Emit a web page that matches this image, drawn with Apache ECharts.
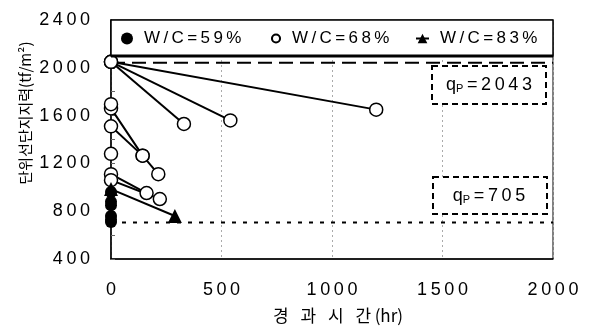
<!DOCTYPE html>
<html>
<head>
<meta charset="utf-8">
<script src="https://cdn.jsdelivr.net/npm/echarts@6/dist/echarts.min.js"></script>
<style>html,body{margin:0;padding:0;background:#fff}#c{width:590px;height:332px}</style>
</head>
<body>
<div id="c"></div>
<script>
// ---- data ----
const xTicks = [0, 500, 1000, 1500, 2000];
const yTicks = [400, 800, 1200, 1600, 2000, 2400];
const seriesNames = ['W/C=59%', 'W/C=68%', 'W/C=83%'];
// W/C=59%: filled circles (initial tests only)
const wc59Points = [[0, 960], [0, 880], [0, 850], [0, 760], [0, 730], [0, 710]];
// W/C=68%: open circles, lines join initial and later tests
const wc68Lines = [
  [[0, 2050], [1200, 1650]],
  [[0, 2050], [540, 1560]],
  [[0, 2050], [330, 1530]],
  [[0, 1660], [143, 1265], [214, 1110]],
  [[0, 1510], [143, 1265]],
  [[0, 1110], [161, 952]],
  [[0, 1060], [221, 902]]
];
const wc68Points = [[0, 1696], [0, 1280]];
// W/C=83%: filled triangles
const wc83Line = [[0, 985], [289, 760]];
// reference capacities q_P
const qpValues = [2043, 705];
const xTitle = '경과시간(hr)';
const yTitle = '단위선단지지력(tf/m²)';

// ---- chart ----
const sp = s => s.split('').join('\u2009');
const chart = echarts.init(document.getElementById('c'), null, {renderer: 'canvas'});
const black = '#000';
const openStyle = {color: '#fff', borderColor: black, borderWidth: 1.5, opacity: 1};
const series = [];
// q_P reference lines
series.push({
  type: 'line', data: [[0, qpValues[0]], [2000, qpValues[0]]], symbol: 'none', silent: true,
  lineStyle: {color: black, width: 2, type: [14, 7]}, z: 1
});
series.push({
  type: 'line', data: [[0, qpValues[1]], [2000, qpValues[1]]], symbol: 'none', silent: true,
  lineStyle: {color: black, width: 2, type: [4, 7]}, z: 1
});
series.push({
  name: seriesNames[0], type: 'scatter', data: wc59Points, symbol: 'circle', symbolSize: 12,
  itemStyle: {color: black, opacity: 1}, z: 3
});
wc68Lines.forEach(seg => series.push({
  name: seriesNames[1], type: 'line', data: seg, symbol: 'circle', symbolSize: 13, showAllSymbol: true,
  lineStyle: {color: black, width: 2}, itemStyle: openStyle, z: 4
}));
series.push({
  name: seriesNames[1], type: 'scatter', data: wc68Points, symbol: 'circle', symbolSize: 13,
  itemStyle: openStyle, z: 4
});
series.push({
  name: seriesNames[2], type: 'line', data: wc83Line, symbol: 'triangle', symbolSize: 14,
  lineStyle: {color: black, width: 2}, itemStyle: {color: black, opacity: 1}, z: 5
});

const legendBase = {
  orient: 'horizontal', padding: 0, top: 30, selectedMode: false, z: 20,
  textStyle: {fontFamily: 'Liberation Sans', fontSize: 17, color: black, padding: [0, 0, 0, 6]},
  formatter: n => sp(n)
};
const labelFont = {fontFamily: 'Liberation Sans', fontSize: 18, color: black};

chart.setOption({
  animation: false,
  backgroundColor: '#fff',
  grid: {left: 111, right: 37, top: 20, bottom: 73, show: true, borderColor: black, borderWidth: 1},
  xAxis: {
    type: 'value', min: xTicks[0], max: xTicks[xTicks.length - 1], interval: 500,
    axisLine: {show: true, lineStyle: {color: black, width: 1.5}},
    axisTick: {show: false},
    axisLabel: Object.assign({margin: 22, formatter: v => sp(String(v))}, labelFont),
    splitLine: {show: true, lineStyle: {color: '#aaa', width: 1, type: [2, 3]}}
  },
  yAxis: {
    type: 'value', min: yTicks[0], max: yTicks[yTicks.length - 1], interval: 400,
    axisLine: {show: true, lineStyle: {color: black, width: 1.5}},
    axisTick: {show: true, inside: true, length: 4, lineStyle: {color: '#666'}},
    minorTick: {show: true, splitNumber: 2, length: 4, lineStyle: {color: '#666'}},
    axisLabel: Object.assign({margin: 21, formatter: v => sp(String(v))}, labelFont),
    splitLine: {show: false}
  },
  legend: [
    Object.assign({}, legendBase, {left: 121, data: [seriesNames[0]], itemWidth: 12, itemHeight: 12}),
    Object.assign({}, legendBase, {left: 270, data: [seriesNames[1]], itemWidth: 10, itemHeight: 10}),
    Object.assign({}, legendBase, {left: 415, data: [seriesNames[2]], itemWidth: 13, itemHeight: 12})
  ],
  graphic: [
    {type: 'rect', z: 10, shape: {x: 111, y: 20, width: 442, height: 36},
     style: {fill: '#fff', stroke: black, lineWidth: 1.5}},
    {type: 'line', z: 11, shape: {x1: 111, y1: 56, x2: 553, y2: 56},
     style: {stroke: black, lineWidth: 3}},
    {type: 'rect', z: 10, shape: {x: 432, y: 66, width: 114, height: 38},
     style: {fill: '#fff', stroke: black, lineWidth: 2, lineDash: [6, 4]}},
    {type: 'text', z: 11, x: 489, y: 85,
     style: {text: '{a|q}{b|P}{a|\u2009=\u20092\u20090\u20094\u20093}', align: 'center', verticalAlign: 'middle',
       rich: {a: {fontFamily: 'Liberation Sans', fontSize: 18, fill: black},
              b: {fontFamily: 'Liberation Sans', fontSize: 11, fill: black, verticalAlign: 'bottom', padding: [8, 0, 0, 0]}}}},
    {type: 'rect', z: 10, shape: {x: 433, y: 177, width: 114, height: 37},
     style: {fill: '#fff', stroke: black, lineWidth: 2, lineDash: [6, 4]}},
    {type: 'text', z: 11, x: 489, y: 196,
     style: {text: '{a|q}{b|P}{a|\u2009=\u20097\u20090\u20095}', align: 'center', verticalAlign: 'middle',
       rich: {a: {fontFamily: 'Liberation Sans', fontSize: 18, fill: black},
              b: {fontFamily: 'Liberation Sans', fontSize: 11, fill: black, verticalAlign: 'bottom', padding: [8, 0, 0, 0]}}}},
    {type: 'text', z: 11, x: 338, y: 316,
     style: {text: '경\u2002\u2009과\u2002\u2009시\u2002\u2009간\u2009(hr)', align: 'center', verticalAlign: 'middle',
       font: '17px "Noto Sans CJK KR"', fill: black}},
    {type: 'text', z: 11, x: 25, y: 113, rotation: Math.PI / 2,
     style: {text: '단위선단지지력(tf/m²)', align: 'center', verticalAlign: 'middle',
       font: '15px "Noto Sans CJK KR"', fill: black}}
  ],
  series: series
});
</script>
</body>
</html>
